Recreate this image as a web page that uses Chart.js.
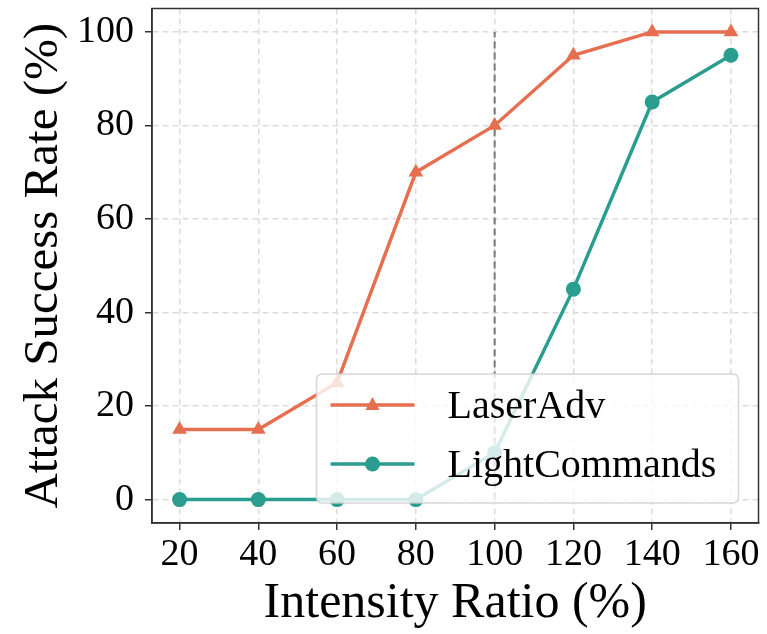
<!DOCTYPE html>
<html>
<head>
<meta charset="utf-8">
<script src="https://cdn.jsdelivr.net/npm/chart.js@4"></script>
<style>
html,body{margin:0;padding:0;background:#fff;}
#wrap{width:767px;height:634px;position:relative;}
</style>
</head>
<body>
<div id="wrap"><canvas id="c" width="767" height="634"></canvas></div>
<script>
const intensity = [20, 40, 60, 80, 100, 120, 140, 160];
const laserAdv = [15, 15, 25, 70, 80, 95, 100, 100];
const lightCommands = [0, 0, 0, 0, 10, 45, 85, 95];
const xTicks = [20, 40, 60, 80, 100, 120, 140, 160];
const yTicks = [0, 20, 40, 60, 80, 100];
const refX = 100;
const seriesNames = ['LaserAdv', 'LightCommands'];

const ORANGE = '#E76F51';
const TEAL = '#2A9D8F';
const FONT = "'Liberation Serif', 'Times New Roman', serif";

const toPts = (xs, ys) => xs.map((x, i) => ({x: x, y: ys[i]}));

const frameAndLegend = {
  id: 'frameAndLegend',
  afterDatasetsDraw(chart) {
    const ctx = chart.ctx;
    const a = chart.chartArea;
    const w = 422, h = 129;
    const right = a.right - 20, bottom = a.bottom - 20;
    const left = right - w, top = bottom - h;
    ctx.save();
    ctx.beginPath();
    const r = 6;
    ctx.moveTo(left + r, top);
    ctx.lineTo(right - r, top);
    ctx.quadraticCurveTo(right, top, right, top + r);
    ctx.lineTo(right, bottom - r);
    ctx.quadraticCurveTo(right, bottom, right - r, bottom);
    ctx.lineTo(left + r, bottom);
    ctx.quadraticCurveTo(left, bottom, left, bottom - r);
    ctx.lineTo(left, top + r);
    ctx.quadraticCurveTo(left, top, left + r, top);
    ctx.closePath();
    ctx.fillStyle = 'rgba(255,255,255,0.8)';
    ctx.fill();
    ctx.strokeStyle = 'rgba(204,204,204,0.8)';
    ctx.lineWidth = 1.5;
    ctx.stroke();

    const rows = [
      {name: seriesNames[0], color: ORANGE, marker: 'triangle', y: top + 31},
      {name: seriesNames[1], color: TEAL, marker: 'circle', y: top + 90}
    ];
    rows.forEach(row => {
      const x1 = left + 14, x2 = left + 98, mx = (x1 + x2) / 2;
      ctx.beginPath();
      ctx.moveTo(x1, row.y);
      ctx.lineTo(x2, row.y);
      ctx.strokeStyle = row.color;
      ctx.lineWidth = 3.5;
      ctx.stroke();
      ctx.fillStyle = row.color;
      ctx.beginPath();
      if (row.marker === 'circle') {
        ctx.arc(mx, row.y, 7.5, 0, Math.PI * 2);
      } else {
        ctx.moveTo(mx, row.y - 8);
        ctx.lineTo(mx + 7, row.y + 5);
        ctx.lineTo(mx - 7, row.y + 5);
        ctx.closePath();
      }
      ctx.fill();
      ctx.fillStyle = '#000';
      ctx.font = '40px ' + FONT;
      ctx.textAlign = 'left';
      ctx.textBaseline = 'middle';
      ctx.fillText(row.name, left + 131, row.y + 2);
    });
    ctx.restore();
  },
  afterDraw(chart) {
    const ctx = chart.ctx;
    const a = chart.chartArea;
    ctx.save();
    ctx.strokeStyle = '#333';
    ctx.lineWidth = 1.5;
    ctx.strokeRect(a.left, a.top, a.right - a.left, a.bottom - a.top);
    ctx.restore();
  }
};

new Chart(document.getElementById('c'), {
  type: 'line',
  data: {
    datasets: [
      {
        label: 'ref',
        data: [{x: refX, y: 0}, {x: refX, y: 100}],
        borderColor: 'rgba(90,90,90,0.8)',
        borderWidth: 2,
        borderDash: [7, 4],
        pointRadius: 0,
        fill: false,
        order: 3
      },
      {
        label: seriesNames[0],
        data: toPts(intensity, laserAdv),
        borderColor: ORANGE,
        backgroundColor: ORANGE,
        borderWidth: 3.5,
        pointStyle: 'triangle',
        pointRadius: 8.5,
        pointBorderWidth: 0,
        tension: 0,
        order: 1
      },
      {
        label: seriesNames[1],
        data: toPts(intensity, lightCommands),
        borderColor: TEAL,
        backgroundColor: TEAL,
        borderWidth: 3.5,
        pointStyle: 'circle',
        pointRadius: 7.5,
        pointBorderWidth: 0,
        tension: 0,
        order: 2
      }
    ]
  },
  options: {
    responsive: false,
    animation: false,
    layout: {padding: {top: 8, right: 4, left: 0, bottom: 0}},
    plugins: {legend: {display: false}, tooltip: {enabled: false}},
    scales: {
      x: {
        type: 'linear',
        min: 13, max: 167,
        afterBuildTicks: s => { s.ticks = xTicks.map(v => ({value: v})); },
        afterFit: s => { s.height = 111; s.paddingLeft = 0; s.paddingRight = 0; },
        ticks: {color: '#000', font: {family: FONT, size: 38}, padding: 2, maxRotation: 0, autoSkip: false},
        grid: {color: '#dcdcdc', lineWidth: 1.5, tickColor: '#333', tickLength: 7, tickWidth: 1.5},
        border: {display: true, color: '#333', width: 1.5, dash: [6, 4]},
        title: {display: true, text: 'Intensity Ratio (%)', color: '#000', font: {family: FONT, size: 50}, padding: {top: 0, bottom: 0}}
      },
      y: {
        min: -5, max: 105,
        afterBuildTicks: s => { s.ticks = yTicks.map(v => ({value: v})); },
        afterFit: s => { s.width = 152; s.paddingTop = 0; s.paddingBottom = 0; },
        ticks: {color: '#000', font: {family: FONT, size: 38}, padding: 11},
        grid: {color: '#dcdcdc', lineWidth: 1.5, tickColor: '#333', tickLength: 7, tickWidth: 1.5},
        border: {display: true, color: '#333', width: 1.5, dash: [6, 4]},
        title: {display: true, text: 'Attack Success Rate (%)', color: '#000', font: {family: FONT, size: 49}, padding: {top: 15, bottom: 0}}
      }
    }
  },
  plugins: [frameAndLegend]
});
</script>
</body>
</html>
